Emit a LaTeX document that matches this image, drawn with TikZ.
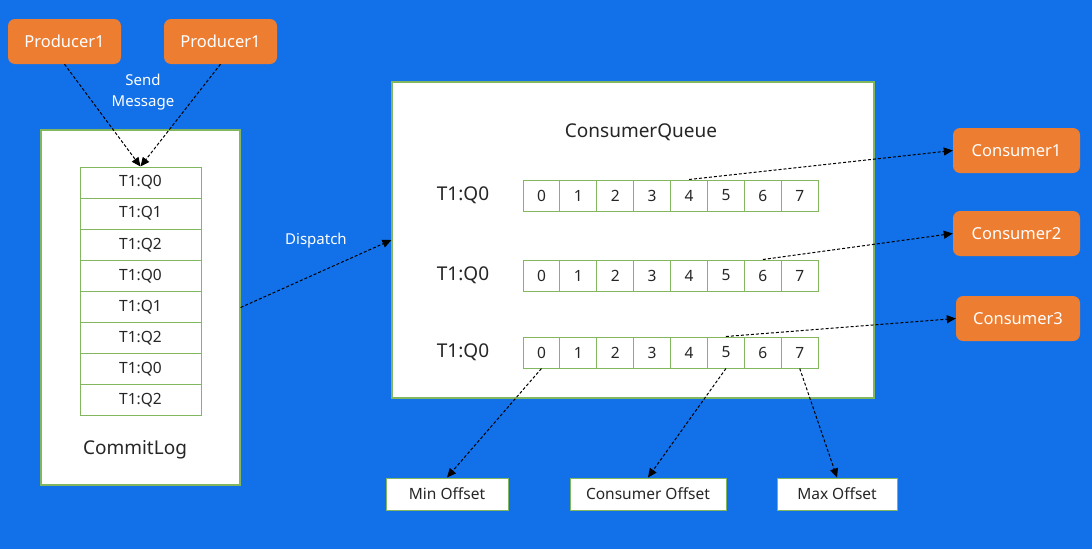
\documentclass[tikz,border=0pt]{standalone}
\usepackage{fontspec}
\setmainfont{Noto Sans}
\usetikzlibrary{arrows.meta,positioning,calc}
\definecolor{bgblue}{RGB}{18,112,232}
\definecolor{orng}{RGB}{237,125,49}
\definecolor{grn}{RGB}{130,183,96}
\begin{document}
\begin{tikzpicture}[x=1pt,y=-1pt,
  orangebox/.style={draw=none,fill=orng,rounded corners=7pt,text=white,font=\fontsize{16.5}{19}\selectfont,inner sep=0pt},
  bigbox/.style={draw=grn,line width=1.2pt,fill=white,inner sep=0pt},
  cellbox/.style={draw=grn,line width=1pt,fill=white,inner sep=0pt,font=\fontsize{15.5}{18}\selectfont,text=black!85},
  lbl/.style={font=\fontsize{19}{22}\selectfont,text=black!85},
  wlbl/.style={text=white,font=\fontsize{15}{21}\selectfont,align=center},
  arr/.style={densely dashed,line width=1pt,-{Triangle[length=9pt,width=8pt]}}]
\useasboundingbox (0,0) rectangle (1092,549);
\fill[bgblue] (0,0) rectangle (1092,549);
% producers
\node[orangebox,minimum width=113pt,minimum height=45pt] (p1) at (64.5,41.5) {Producer1};
\node[orangebox,minimum width=113pt,minimum height=45pt] (p2) at (220.5,41.5) {Producer1};
\node[wlbl] (send) at (143,92) {Send\\Message};
% commitlog
\node[bigbox,minimum width=199pt,minimum height=355pt] (cl) at (140.5,307.5) {};
\foreach \i/\t in {1/T1:Q0,2/T1:Q1,3/T1:Q2,4/T1:Q0,5/T1:Q1,6/T1:Q2,7/T1:Q0,8/T1:Q2}{
  \node[cellbox,minimum width=121pt,minimum height=31.1pt] (c\i) at (140.5,{167+31.1*(\i-0.5)}) {\t};
}
\node[lbl] (cltxt) at (135,450) {CommitLog};
% consumer queue
\node[bigbox,minimum width=482pt,minimum height=316pt] (cq) at (633,240) {};
\node[lbl] (cqtxt) at (641,132) {ConsumerQueue};
\foreach \r/\y in {1/195.5,2/275.5,3/352.5}{
  \node[lbl] (rl\r) at (463,\y) {T1:Q0};
  \foreach \k in {0,...,7}{
    \node[cellbox,minimum width=36.9pt,minimum height=31pt] (q\r\k) at ({523+36.9*(\k+0.5)},\y) {\k};
  }
}
% consumers
\node[orangebox,minimum width=127pt,minimum height=45pt] (con1) at (1016.5,150.5) {Consumer1};
\node[orangebox,minimum width=127pt,minimum height=45pt] (con2) at (1016.5,233.5) {Consumer2};
\node[orangebox,minimum width=124pt,minimum height=45pt] (con3) at (1018,318.5) {Consumer3};
% offsets
\node[cellbox,minimum width=122pt,minimum height=32pt] (minoff) at (447,494) {Min Offset};
\node[cellbox,minimum width=156pt,minimum height=32pt] (conoff) at (648,494) {Consumer Offset};
\node[cellbox,minimum width=120pt,minimum height=32pt] (maxoff) at (837,494) {Max Offset};
% arrows
\draw[arr] (p1.south) -- (c1.north);
\draw[arr] (p2.south) -- (c1.north);
\draw[arr] (cl.east) -- (cq.west);
\node[wlbl] (disp) at (316,241) {Dispatch};
\draw[arr] (q14.north) -- (con1.west);
\draw[arr] (q26.north) -- (con2.west);
\draw[arr] (q35.north) -- (con3.west);
\draw[arr] (q30.south) -- (minoff.north);
\draw[arr] (q35.south) -- (conoff.north);
\draw[arr] (q37.south) -- (maxoff.north);
\end{tikzpicture}
\end{document}
